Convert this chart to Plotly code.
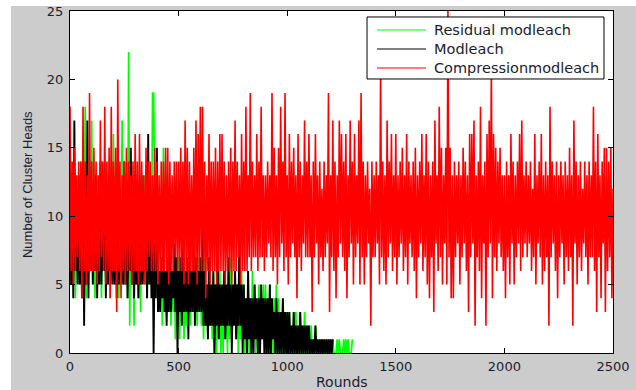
import plotly.graph_objects as go

# Rounds between consecutive samples
round_step = 5

# Compression modleach (red), rounds 0..2500
red_values = [
    18,6,14,5,15,6,13,7,14,6,14,4,18,6,14,5,13,6,19,6,
    14,6,15,6,14,5,13,6,17,7,14,6,18,5,14,6,15,4,18,6,
    14,6,15,3,20,6,14,4,13,6,14,5,15,6,14,6,13,5,14,6,
    16,6,14,5,16,6,14,6,13,5,15,6,14,7,14,6,13,6,15,6,
    14,5,13,6,14,6,14,6,15,6,15,5,14,6,13,6,14,7,14,6,
    14,6,15,6,14,5,17,6,15,5,14,6,13,6,15,6,17,5,16,6,
    18,6,18,6,14,4,13,6,16,5,14,6,14,6,15,5,14,6,16,6,
    16,6,14,5,13,6,14,6,15,5,14,6,17,6,14,7,13,5,16,6,
    14,6,18,6,13,7,19,6,14,7,13,7,16,6,14,7,18,7,13,6,
    13,7,14,8,13,7,19,6,15,7,13,5,15,7,18,8,14,6,19,7,
    13,5,16,7,14,8,15,7,13,4,16,7,14,6,13,8,17,7,14,7,
    16,7,13,3,14,7,16,8,13,5,14,7,12,6,14,7,13,8,19,3,
    13,7,17,6,14,4,13,7,17,8,16,7,14,6,16,4,13,7,17,8,
    14,5,16,7,13,8,17,5,19,7,14,5,13,7,14,8,12,2,14,7,
    13,7,14,8,13,5,21,7,14,6,13,5,17,7,14,8,16,6,13,7,
    16,5,13,7,14,8,15,6,13,7,16,5,14,8,13,7,14,6,15,4,
    13,7,14,8,16,6,13,7,16,5,14,4,13,7,14,3,17,8,13,6,
    18,7,15,5,13,8,15,5,25,7,15,4,13,4,14,7,13,8,14,5,
    13,7,15,8,14,6,13,3,16,7,16,8,17,2,13,7,14,6,18,4,
    13,8,14,2,16,7,17,8,21,4,16,7,15,6,14,8,15,7,13,6,
    13,4,14,7,13,5,16,8,14,5,13,7,14,8,16,6,17,7,13,8,
    14,7,13,8,14,6,12,7,16,5,13,8,14,7,16,5,13,6,14,7,
    13,2,18,7,14,8,13,6,14,4,13,7,14,8,13,5,14,7,13,6,
    15,7,13,2,17,8,14,5,13,7,14,6,12,8,14,7,13,5,14,7,
    13,7,18,6,14,3,16,7,13,4,14,8,15,3,15,6,14,7,15,4,
    12,
]

# Modleach (black), rounds 0..1210
black_values = [
    15,5,12,4,17,6,11,5,13,5,10,4,14,2,12,5,17,4,11,6,
    12,5,9,6,13,4,10,5,14,5,11,6,12,4,9,5,13,6,10,5,
    11,5,13,4,9,5,12,6,10,5,14,5,11,4,9,6,15,5,10,4,
    12,5,9,4,11,5,13,5,10,6,8,4,16,5,10,4,9,0,8,4,
    15,3,6,3,7,4,9,3,6,2,7,3,12,3,6,4,8,3,7,0,
    6,3,7,2,10,3,6,3,7,1,8,3,6,3,11,2,7,3,6,3,
    7,3,9,2,6,2,5,1,7,2,5,2,6,0,5,2,8,1,5,2,
    5,2,6,1,5,2,7,2,5,0,5,2,6,1,5,2,9,2,5,0,
    5,1,4,0,6,1,4,0,4,0,5,1,4,0,4,0,5,1,4,0,
    4,0,4,0,5,0,4,1,3,0,4,0,3,0,3,0,4,0,3,0,
    3,0,3,0,2,0,3,0,2,0,2,0,3,0,2,0,2,0,2,0,
    2,0,1,0,1,0,2,0,1,0,1,0,1,0,1,0,1,0,1,0,
    1,0,1,
]

# Residual modleach (green), rounds 0..1300
green_values = [
    13,6,10,5,12,4,9,6,11,5,14,5,10,6,18,4,12,5,9,6,
    17,5,11,4,9,6,13,5,10,4,12,6,9,5,11,5,13,4,10,6,
    16,5,10,6,12,4,11,5,17,5,9,6,13,4,22,2,11,5,10,2,
    11,5,9,4,12,3,10,6,13,5,9,4,11,5,10,6,19,19,12,5,
    8,3,6,4,7,2,15,3,6,4,8,3,7,2,6,3,7,1,5,2,
    7,1,6,3,8,1,5,2,7,3,6,2,9,3,6,4,5,2,7,3,
    6,2,5,1,7,2,5,1,6,2,5,1,6,0,5,0,5,1,6,0,
    5,0,6,1,5,0,5,1,7,1,5,2,6,1,5,0,5,1,6,1,
    5,0,4,1,5,0,4,0,6,1,5,0,4,0,5,0,4,1,5,0,
    5,0,4,0,5,0,4,0,4,0,5,0,4,0,3,0,4,0,3,0,
    3,0,3,0,2,0,3,0,3,0,2,0,3,0,2,0,3,0,2,0,
    2,0,2,0,1,0,2,0,1,0,1,0,1,0,1,0,1,0,1,0,
    1,0,1,0,0,0,1,0,1,0,0,0,1,0,1,0,1,0,0,0,
    1,
]

series_names = ["Residual modleach", "Modleach", "Compressionmodleach"]
series_colors = ["#00ff00", "#000000", "#ff0000"]
series_widths = [1.7, 1.9, 1.6]
x_ticks = [0, 500, 1000, 1500, 2000, 2500]
y_ticks = [0, 5, 10, 15, 20, 25]


def rounds(n):
    return [i * round_step for i in range(n)]


fig = go.Figure()
for name, color, width, vals in zip(series_names, series_colors, series_widths,
                                    [green_values, black_values, red_values]):
    fig.add_trace(go.Scatter(
        x=rounds(len(vals)), y=vals, mode="lines", name=name,
        line=dict(color=color, width=width, simplify=False),
        showlegend=False, hoverinfo="skip",
    ))

text_color = "#1c1c2c"
tick_font = dict(family="DejaVu Sans", size=13, color=text_color)
axis_common = dict(
    showgrid=False, zeroline=False, showline=True, linecolor="#000000",
    linewidth=1, ticks="inside", ticklen=5, tickcolor="#000000",
    mirror="allticks", tickfont=tick_font, ticklabeloverflow="allow",
)

# Hand-drawn legend box (paper coordinates relative to the plot area)
leg_x0, leg_x1, leg_y0, leg_y1 = 0.5470, 0.9834, 0.8012, 0.9825
leg_line_x0, leg_line_x1, leg_text_x = 0.5654, 0.6556, 0.6667
leg_rows = [0.9444, 0.8889, 0.8333]

shapes = [
    # white strips at the top and far left of the page
    dict(type="rect", xref="paper", yref="paper", x0=-0.3, x1=-0.1087,
         y0=-0.3, y1=1.3, fillcolor="#ffffff", line_width=0, layer="below"),
    dict(type="rect", xref="paper", yref="paper", x0=-0.3, x1=1.3,
         y0=1.0146, y1=1.3, fillcolor="#ffffff", line_width=0, layer="below"),
    dict(type="rect", xref="paper", yref="paper", x0=leg_x0, x1=leg_x1,
         y0=leg_y0, y1=leg_y1, fillcolor="#ffffff",
         line=dict(color="#000000", width=1), layer="above"),
]
annotations = []
for name, color, yy in zip(series_names, series_colors, leg_rows):
    shapes.append(dict(type="line", xref="paper", yref="paper",
                       x0=leg_line_x0, x1=leg_line_x1, y0=yy, y1=yy,
                       line=dict(color=color, width=1.2), layer="above"))
    annotations.append(dict(text=name, xref="paper", yref="paper",
                            x=leg_text_x, y=yy, xanchor="left", yanchor="middle",
                            showarrow=False,
                            font=dict(family="DejaVu Sans", size=14.5, color=text_color)))

annotations += [
    dict(text="Rounds", xref="paper", yref="paper", x=0.5, y=-0.0848,
         xanchor="center", yanchor="middle", showarrow=False,
         font=dict(family="DejaVu Sans", size=14, color=text_color)),
    dict(text="Number of Cluster Heads", xref="paper", yref="paper",
         x=-0.0792, y=0.494, xanchor="center", yanchor="middle",
         textangle=-90, showarrow=False,
         font=dict(family="Liberation Sans", size=13, color=text_color)),
]

fig.update_layout(
    width=636, height=390,
    paper_bgcolor="#cccccc", plot_bgcolor="#ffffff",
    margin=dict(l=70, r=23, t=11, b=37, autoexpand=False),
    xaxis=dict(range=[0, 2500], tickvals=x_ticks, ticklabelstandoff=1, **axis_common),
    yaxis=dict(range=[0, 25], tickvals=y_ticks, ticklabelstandoff=3, **axis_common),
    showlegend=False,
    hovermode=False,
    shapes=shapes,
    annotations=annotations,
)

fig.write_html(
    "out.html",
    config={"displayModeBar": False},
    post_script="document.body.style.margin='0px';",
)
